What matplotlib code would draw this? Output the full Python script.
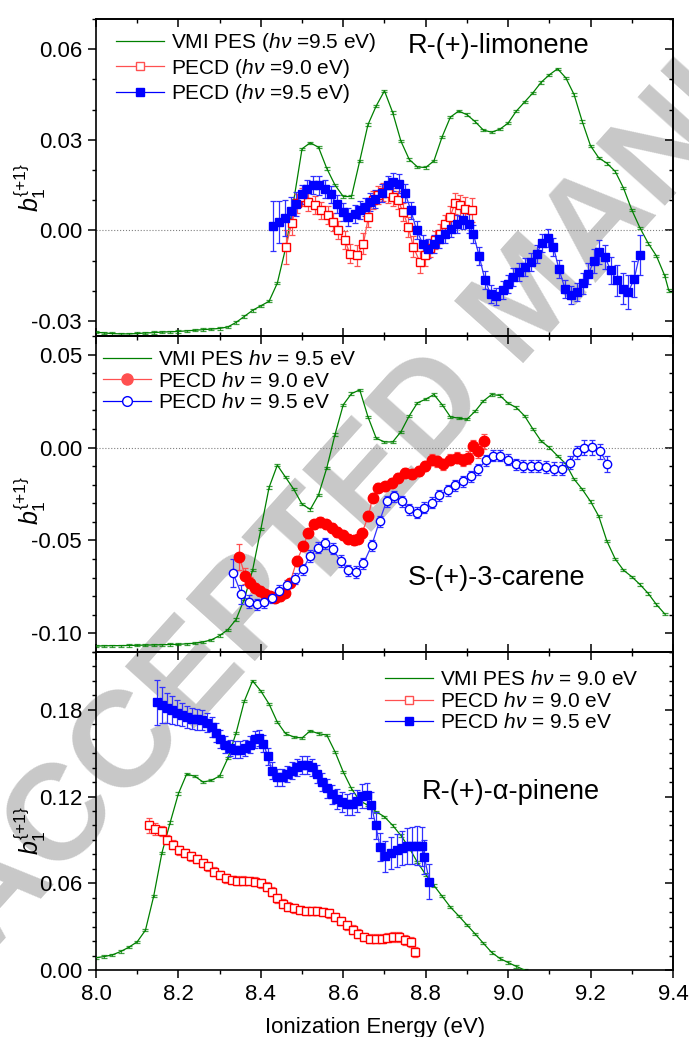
import matplotlib
matplotlib.use("Agg")
import matplotlib.pyplot as plt
from matplotlib.ticker import MultipleLocator, FixedLocator, FormatStrFormatter
from matplotlib.lines import Line2D

plt.rcParams["font.family"] = ["Liberation Sans", "DejaVu Sans"]
plt.rcParams["mathtext.fontset"] = "custom"
plt.rcParams["mathtext.rm"] = "Liberation Sans"
plt.rcParams["mathtext.it"] = "Liberation Sans:italic"
plt.rcParams["mathtext.bf"] = "Liberation Sans:bold"
plt.rcParams["axes.unicode_minus"] = False

# ---------------- data ----------------
# VMI PES curves (scaled onto each panel), 0.02 eV grid
pes_x_lim = [8.00, 8.02, 8.04, 8.06, 8.08, 8.10, 8.12, 8.14, 8.16, 8.18,
             8.20, 8.22, 8.24, 8.26, 8.28, 8.30, 8.32, 8.34, 8.36, 8.38,
             8.40, 8.42, 8.44, 8.46, 8.48, 8.50, 8.52, 8.54, 8.56, 8.58,
             8.60, 8.62, 8.64, 8.66, 8.68, 8.70, 8.72, 8.74, 8.76, 8.78,
             8.80, 8.82, 8.84, 8.86, 8.88, 8.90, 8.92, 8.94, 8.96, 8.98,
             9.00, 9.02, 9.04, 9.06, 9.08, 9.10, 9.12, 9.14, 9.16, 9.18,
             9.20, 9.22, 9.24, 9.26, 9.28, 9.30, 9.32, 9.34, 9.36, 9.38, 9.39]
pes_y_lim = [-0.0337, -0.0340, -0.0342, -0.0343, -0.0343, -0.0342, -0.0340, -0.0339, -0.0337, -0.0336,
             -0.0335, -0.0333, -0.0331, -0.0329, -0.0327, -0.0325, -0.0320, -0.0305, -0.0285, -0.0265,
             -0.0250, -0.0235, -0.0175, -0.0060, 0.0100, 0.0270, 0.0290, 0.0275, 0.0205, 0.0150,
             0.0112, 0.0112, 0.0230, 0.0350, 0.0412, 0.0462, 0.0390, 0.0295, 0.0235, 0.0210,
             0.0208, 0.0230, 0.0310, 0.0375, 0.0395, 0.0383, 0.0360, 0.0332, 0.0325, 0.0335,
             0.0355, 0.0395, 0.0425, 0.0455, 0.0490, 0.0515, 0.0535, 0.0505, 0.0450, 0.0360,
             0.0280, 0.0240, 0.0222, 0.0195, 0.0140, 0.0068, 0.0008, -0.0043, -0.0085, -0.0150, -0.0200]
pes_err_lim = 0.0004

pes_x_car = [8.00, 8.02, 8.04, 8.06, 8.08, 8.10, 8.12, 8.14, 8.16, 8.18,
             8.20, 8.22, 8.24, 8.26, 8.28, 8.30, 8.32, 8.34, 8.36, 8.38,
             8.40, 8.42, 8.44, 8.46, 8.48, 8.50, 8.52, 8.54, 8.56, 8.58,
             8.60, 8.62, 8.64, 8.66, 8.68, 8.70, 8.72, 8.74, 8.76, 8.78,
             8.80, 8.82, 8.84, 8.86, 8.88, 8.90, 8.92, 8.94, 8.96, 8.98,
             9.00, 9.02, 9.04, 9.06, 9.08, 9.10, 9.12, 9.14, 9.16, 9.18,
             9.20, 9.22, 9.24, 9.26, 9.28, 9.30, 9.32, 9.34, 9.36, 9.38]
pes_y_car = [-0.1068, -0.1067, -0.1066, -0.1066, -0.1065, -0.1064, -0.1063, -0.1062, -0.1061, -0.1060,
             -0.1059, -0.1056, -0.1053, -0.1046, -0.1035, -0.1012, -0.0980, -0.0925, -0.0815, -0.0660,
             -0.0440, -0.0215, -0.0095, -0.0160, -0.0225, -0.0305, -0.0333, -0.0255, -0.0110, 0.0070,
             0.0230, 0.0290, 0.0310, 0.0165, 0.0050, 0.0030, 0.0030, 0.0085, 0.0170, 0.0240,
             0.0260, 0.0285, 0.0230, 0.0165, 0.0158, 0.0152, 0.0195, 0.0250, 0.0285, 0.0280,
             0.0238, 0.0215, 0.0170, 0.0100, 0.0035, 0.0000, -0.0045, -0.0088, -0.0170, -0.0225,
             -0.0290, -0.0370, -0.0505, -0.0600, -0.0660, -0.0695, -0.0737, -0.0785, -0.0845, -0.0895]
pes_err_car = 0.0006

pes_x_pin = [8.00, 8.02, 8.04, 8.06, 8.08, 8.10, 8.12, 8.14, 8.16, 8.18,
             8.20, 8.22, 8.24, 8.26, 8.28, 8.30, 8.32, 8.34, 8.36, 8.38,
             8.40, 8.42, 8.44, 8.46, 8.48, 8.50, 8.52, 8.54, 8.56, 8.58,
             8.60, 8.62, 8.64, 8.66, 8.68, 8.70, 8.72, 8.74, 8.76, 8.78,
             8.80, 8.82, 8.84, 8.86, 8.88, 8.90, 8.92, 8.94, 8.96, 8.98,
             9.00, 9.02, 9.04]
pes_y_pin = [0.0085, 0.0093, 0.0105, 0.0128, 0.0158, 0.0195, 0.0275, 0.0510, 0.0810, 0.1020,
             0.1220, 0.1355, 0.1340, 0.1300, 0.1312, 0.1342, 0.1465, 0.1640, 0.1860, 0.2000,
             0.1930, 0.1840, 0.1715, 0.1635, 0.1612, 0.1605, 0.1655, 0.1635, 0.1625, 0.1510,
             0.1370, 0.1255, 0.1170, 0.1140, 0.1095, 0.1060, 0.1000, 0.0930, 0.0845, 0.0745,
             0.0660, 0.0585, 0.0510, 0.0435, 0.0375, 0.0312, 0.0250, 0.0185, 0.0122, 0.0080,
             0.0052, 0.0025, 0.0000]
pes_err_pin = 0.0008

# R-(+)-limonene PECD
lim90_x = [8.461, 8.475, 8.487, 8.499, 8.515, 8.531, 8.547, 8.563, 8.576, 8.588,
           8.604, 8.616, 8.633, 8.649, 8.661, 8.673, 8.685, 8.697, 8.709, 8.721,
           8.733, 8.745, 8.758, 8.770, 8.786, 8.798, 8.810, 8.823, 8.835, 8.847,
           8.859, 8.871, 8.883, 8.895, 8.912]
lim90_y = [-0.0055, 0.0023, 0.0089, 0.0109, 0.0094, 0.0083, 0.0066, 0.0050, 0.0028, 0.0000,
           -0.0033, -0.0077, -0.0083, -0.0044, 0.0044, 0.0099, 0.0116, 0.0127, 0.0122, 0.0110,
           0.0099, 0.0061, 0.0011, -0.0055, -0.0105, -0.0083, -0.0060, -0.0033, -0.0011, 0.0022,
           0.0044, 0.0089, 0.0083, 0.0072, 0.0066]
lim90_e = [0.0055, 0.0040, 0.0032, 0.0030, 0.0030, 0.0030, 0.0029, 0.0030, 0.0031, 0.0030,
           0.0030, 0.0031, 0.0035, 0.0035, 0.0034, 0.0030, 0.0030, 0.0029, 0.0030, 0.0030,
           0.0030, 0.0031, 0.0032, 0.0035, 0.0036, 0.0035, 0.0030, 0.0030, 0.0031, 0.0030,
           0.0035, 0.0036, 0.0035, 0.0040, 0.0040]

lim95_x = [8.430, 8.445, 8.459, 8.473, 8.486, 8.499, 8.513, 8.527, 8.542, 8.556,
           8.570, 8.584, 8.599, 8.612, 8.629, 8.641, 8.653, 8.665, 8.677, 8.693,
           8.709, 8.721, 8.736, 8.750, 8.764, 8.778, 8.793, 8.806, 8.820, 8.833,
           8.847, 8.861, 8.875, 8.890, 8.904, 8.916, 8.930, 8.944, 8.958, 8.971,
           8.987, 8.999, 9.013, 9.027, 9.041, 9.055, 9.069, 9.083, 9.098, 9.110,
           9.123, 9.138, 9.152, 9.166, 9.181, 9.195, 9.208, 9.221, 9.235, 9.249,
           9.264, 9.278, 9.292, 9.306, 9.319]
lim95_y = [0.0013, 0.0028, 0.0042, 0.0064, 0.0088, 0.0119, 0.0138, 0.0149, 0.0149, 0.0138,
           0.0119, 0.0086, 0.0061, 0.0044, 0.0055, 0.0066, 0.0077, 0.0094, 0.0105, 0.0124,
           0.0149, 0.0160, 0.0155, 0.0124, 0.0066, 0.0000, -0.0044, -0.0061, -0.0044, -0.0028,
           -0.0011, 0.0006, 0.0020, 0.0033, 0.0022, -0.0013, -0.0086, -0.0166, -0.0212, -0.0219,
           -0.0199, -0.0177, -0.0155, -0.0138, -0.0122, -0.0105, -0.0077, -0.0042, -0.0024, -0.0055,
           -0.0127, -0.0193, -0.0215, -0.0204, -0.0175, -0.0144, -0.0102, -0.0072, -0.0088, -0.0133,
           -0.0166, -0.0193, -0.0204, -0.0160, -0.0083]
lim95_e = [0.0083, 0.0070, 0.0060, 0.0045, 0.0040, 0.0032, 0.0030, 0.0030, 0.0031, 0.0030,
           0.0029, 0.0030, 0.0030, 0.0031, 0.0030, 0.0030, 0.0029, 0.0030, 0.0030, 0.0030,
           0.0031, 0.0030, 0.0030, 0.0030, 0.0029, 0.0030, 0.0030, 0.0031, 0.0030, 0.0030,
           0.0030, 0.0029, 0.0030, 0.0030, 0.0031, 0.0030, 0.0030, 0.0030, 0.0030, 0.0029,
           0.0030, 0.0030, 0.0030, 0.0031, 0.0030, 0.0030, 0.0030, 0.0030, 0.0030, 0.0030,
           0.0030, 0.0030, 0.0030, 0.0030, 0.0035, 0.0035, 0.0040, 0.0040, 0.0040, 0.0045,
           0.0050, 0.0050, 0.0055, 0.0060, 0.0066]

# S-(+)-3-carene PECD
car90_x = [8.348, 8.362, 8.374, 8.386, 8.398, 8.410, 8.422, 8.434, 8.446, 8.459,
           8.471, 8.487, 8.503, 8.515, 8.529, 8.544, 8.558, 8.572, 8.584, 8.599,
           8.612, 8.626, 8.637, 8.645, 8.661, 8.671, 8.685, 8.701, 8.718, 8.734,
           8.750, 8.767, 8.783, 8.798, 8.815, 8.827, 8.843, 8.859, 8.875, 8.891,
           8.903, 8.914, 8.928, 8.942]
car90_y = [-0.0588, -0.0692, -0.0727, -0.0754, -0.0772, -0.0790, -0.0800, -0.0808, -0.0800, -0.0781,
           -0.0727, -0.0611, -0.0531, -0.0462, -0.0414, -0.0401, -0.0414, -0.0432, -0.0455, -0.0473,
           -0.0491, -0.0500, -0.0491, -0.0462, -0.0369, -0.0270, -0.0217, -0.0208, -0.0190, -0.0163,
           -0.0136, -0.0145, -0.0127, -0.0100, -0.0065, -0.0073, -0.0091, -0.0065, -0.0056, -0.0065,
           -0.0056, 0.0007, -0.0020, 0.0034]
car90_e = [0.0070, 0.0045, 0.0030, 0.0025, 0.0025, 0.0024, 0.0025, 0.0025, 0.0025, 0.0025,
           0.0025, 0.0025, 0.0025, 0.0025, 0.0024, 0.0025, 0.0025, 0.0025, 0.0025, 0.0025,
           0.0025, 0.0025, 0.0025, 0.0025, 0.0025, 0.0025, 0.0025, 0.0025, 0.0025, 0.0025,
           0.0025, 0.0025, 0.0028, 0.0028, 0.0030, 0.0030, 0.0030, 0.0030, 0.0030, 0.0032,
           0.0035, 0.0035, 0.0038, 0.0040]

car95_x = [8.333, 8.353, 8.372, 8.390, 8.408, 8.426, 8.445, 8.464, 8.483, 8.502,
           8.519, 8.538, 8.556, 8.574, 8.594, 8.612, 8.631, 8.649, 8.669, 8.688,
           8.705, 8.723, 8.742, 8.760, 8.778, 8.797, 8.815, 8.833, 8.853, 8.871,
           8.890, 8.909, 8.928, 8.946, 8.963, 8.980, 8.999, 9.018, 9.037, 9.056,
           9.073, 9.092, 9.112, 9.130, 9.149, 9.166, 9.185, 9.203, 9.223, 9.241]
car95_y = [-0.0677, -0.0790, -0.0831, -0.0844, -0.0831, -0.0808, -0.0772, -0.0742, -0.0706, -0.0656,
           -0.0584, -0.0539, -0.0516, -0.0545, -0.0611, -0.0660, -0.0670, -0.0624, -0.0527, -0.0396,
           -0.0289, -0.0262, -0.0289, -0.0333, -0.0351, -0.0324, -0.0297, -0.0258, -0.0230, -0.0204,
           -0.0181, -0.0154, -0.0118, -0.0068, -0.0043, -0.0043, -0.0065, -0.0091, -0.0100, -0.0100,
           -0.0100, -0.0104, -0.0113, -0.0113, -0.0082, -0.0025, -0.0002, 0.0002, -0.0020, -0.0088]
car95_e = [0.0075, 0.0050, 0.0035, 0.0030, 0.0030, 0.0029, 0.0030, 0.0030, 0.0030, 0.0030,
           0.0030, 0.0030, 0.0029, 0.0030, 0.0030, 0.0030, 0.0030, 0.0030, 0.0030, 0.0030,
           0.0030, 0.0029, 0.0030, 0.0030, 0.0030, 0.0030, 0.0030, 0.0030, 0.0030, 0.0030,
           0.0030, 0.0030, 0.0030, 0.0030, 0.0030, 0.0030, 0.0030, 0.0030, 0.0032, 0.0032,
           0.0032, 0.0032, 0.0033, 0.0034, 0.0035, 0.0035, 0.0040, 0.0040, 0.0040, 0.0045]

# R-(+)-alpha-pinene PECD
pin90_x = [8.129, 8.143, 8.159, 8.173, 8.188, 8.202, 8.216, 8.230, 8.244, 8.259,
           8.273, 8.287, 8.301, 8.315, 8.329, 8.343, 8.357, 8.372, 8.386, 8.400,
           8.414, 8.426, 8.439, 8.453, 8.467, 8.481, 8.495, 8.510, 8.523, 8.537,
           8.552, 8.566, 8.580, 8.594, 8.608, 8.623, 8.636, 8.650, 8.665, 8.679,
           8.693, 8.707, 8.721, 8.736, 8.750, 8.764, 8.774]
pin90_y = [0.1000, 0.0977, 0.0960, 0.0902, 0.0867, 0.0828, 0.0809, 0.0786, 0.0767, 0.0740,
           0.0716, 0.0681, 0.0658, 0.0635, 0.0623, 0.0618, 0.0618, 0.0616, 0.0611, 0.0600,
           0.0576, 0.0541, 0.0495, 0.0460, 0.0437, 0.0426, 0.0414, 0.0409, 0.0409, 0.0409,
           0.0402, 0.0391, 0.0367, 0.0339, 0.0309, 0.0279, 0.0251, 0.0228, 0.0216, 0.0216,
           0.0216, 0.0223, 0.0228, 0.0228, 0.0209, 0.0193, 0.0123]
pin90_e = [0.0050, 0.0040, 0.0035, 0.0032, 0.0030, 0.0030, 0.0030, 0.0030, 0.0029, 0.0030,
           0.0030, 0.0030, 0.0030, 0.0030, 0.0030, 0.0029, 0.0030, 0.0030, 0.0030, 0.0030,
           0.0030, 0.0030, 0.0030, 0.0030, 0.0030, 0.0030, 0.0030, 0.0029, 0.0030, 0.0030,
           0.0030, 0.0030, 0.0030, 0.0030, 0.0030, 0.0030, 0.0030, 0.0030, 0.0030, 0.0030,
           0.0030, 0.0031, 0.0032, 0.0032, 0.0033, 0.0034, 0.0035]

pin95_x = [8.147, 8.159, 8.172, 8.184, 8.196, 8.208, 8.220, 8.232, 8.244, 8.257,
           8.269, 8.281, 8.291, 8.301, 8.313, 8.325, 8.337, 8.349, 8.362, 8.374,
           8.386, 8.396, 8.406, 8.417, 8.427, 8.439, 8.451, 8.463, 8.475, 8.487,
           8.499, 8.511, 8.523, 8.536, 8.548, 8.560, 8.572, 8.584, 8.597, 8.609,
           8.621, 8.633, 8.645, 8.657, 8.668, 8.679, 8.689, 8.701, 8.717, 8.730,
           8.742, 8.754, 8.767, 8.779, 8.791, 8.797, 8.809]
pin95_y = [0.1851, 0.1832, 0.1814, 0.1797, 0.1781, 0.1767, 0.1751, 0.1739, 0.1734, 0.1727,
           0.1711, 0.1681, 0.1642, 0.1600, 0.1558, 0.1535, 0.1525, 0.1525, 0.1535, 0.1558,
           0.1595, 0.1605, 0.1565, 0.1479, 0.1379, 0.1333, 0.1333, 0.1356, 0.1379, 0.1402,
           0.1418, 0.1418, 0.1402, 0.1356, 0.1302, 0.1256, 0.1216, 0.1181, 0.1162, 0.1146,
           0.1146, 0.1169, 0.1204, 0.1209, 0.1139, 0.1000, 0.0851, 0.0786, 0.0809, 0.0828,
           0.0844, 0.0855, 0.0860, 0.0860, 0.0855, 0.0781, 0.0611]
pin95_e = [0.0154, 0.0125, 0.0105, 0.0095, 0.0088, 0.0082, 0.0078, 0.0075, 0.0072, 0.0070,
           0.0068, 0.0066, 0.0064, 0.0062, 0.0060, 0.0058, 0.0058, 0.0058, 0.0058, 0.0058,
           0.0058, 0.0058, 0.0058, 0.0058, 0.0058, 0.0058, 0.0058, 0.0058, 0.0060, 0.0060,
           0.0060, 0.0060, 0.0060, 0.0060, 0.0062, 0.0064, 0.0066, 0.0068, 0.0070, 0.0072,
           0.0075, 0.0078, 0.0082, 0.0086, 0.0090, 0.0095, 0.0100, 0.0105, 0.0110, 0.0115,
           0.0120, 0.0125, 0.0130, 0.0135, 0.0135, 0.0120, 0.0120]

xticks = [8.0, 8.2, 8.4, 8.6, 8.8, 9.0, 9.2, 9.4]
yticks_lim = [-0.03, 0.00, 0.03, 0.06]
yticks_car = [-0.10, -0.05, 0.00, 0.05]
yticks_pin = [0.00, 0.06, 0.12, 0.18]

GREEN = "#008000"
RED = "#ff0000"
BLUE = "#0000ff"

fig = plt.figure(figsize=(6.89, 10.37), dpi=100)

# watermark behind the panels
fig.text(-0.012, 0.080, "ACCEPTED MANUSCRIPT", rotation=48, rotation_mode="anchor",
         ha="left", va="baseline", fontsize=98, fontweight="bold",
         color="#c8c8c8", zorder=-5)

L, W = 0.1393, 0.8374
ax1 = fig.add_axes([L, 0.6760, W, 0.3057])
ax2 = fig.add_axes([L, 0.3713, W, 0.3047])
ax3 = fig.add_axes([L, 0.0646, W, 0.3067])


def style(ax, ylim, yticks, bottom_out):
    ax.set_facecolor("none")
    ax.set_xlim(8.0, 9.4)
    ax.set_ylim(*ylim)
    ax.xaxis.set_major_locator(FixedLocator(xticks))
    ax.xaxis.set_minor_locator(MultipleLocator(0.1))
    ax.yaxis.set_major_locator(FixedLocator(yticks))
    ax.yaxis.set_minor_locator(MultipleLocator(0.01))
    ax.yaxis.set_major_formatter(FormatStrFormatter("%.2f"))
    ax.xaxis.set_major_formatter(FormatStrFormatter("%.1f"))
    for s in ax.spines.values():
        s.set_linewidth(1.2)
    ax.tick_params(axis="y", which="major", direction="out", length=6, width=1.1,
                   labelsize=16, pad=4)
    ax.tick_params(axis="y", which="minor", direction="out", length=3, width=1.0)
    ax.tick_params(axis="x", which="major", direction="out" if bottom_out else "in",
                   length=6, width=1.1, labelsize=16, pad=4,
                   labelbottom=bottom_out)
    ax.tick_params(axis="x", which="minor", direction="out" if bottom_out else "in",
                   length=3, width=1.0)
    top = ax.secondary_xaxis("top")
    top.xaxis.set_major_locator(FixedLocator(xticks))
    top.xaxis.set_minor_locator(MultipleLocator(0.1))
    top.tick_params(which="major", direction="in", length=6, width=1.1, labeltop=False)
    top.tick_params(which="minor", direction="in", length=3, width=1.0)
    top.spines["top"].set_linewidth(1.2)
    right = ax.secondary_yaxis("right")
    right.yaxis.set_major_locator(FixedLocator(yticks))
    right.yaxis.set_minor_locator(MultipleLocator(0.01))
    right.tick_params(which="major", direction="in", length=6, width=1.1, labelright=False)
    right.tick_params(which="minor", direction="in", length=3, width=1.0)
    right.spines["right"].set_linewidth(1.2)
    ax.set_ylabel(r"$b_1^{\{+1\}}$", fontsize=18)


def pes(ax, x, y, err):
    ax.errorbar(x, y, yerr=err, fmt="none", ecolor=GREEN, elinewidth=0.8,
                capsize=2.5, capthick=0.9, alpha=0.75, zorder=2)
    ax.plot(x, y, color=GREEN, lw=0.9, zorder=3)


def pecd(ax, x, y, err, color, ecolor, marker, filled, ms):
    ax.errorbar(x, y, yerr=err, fmt="none", ecolor=ecolor, elinewidth=0.9,
                capsize=2.5, capthick=0.9, zorder=4)
    ax.plot(x, y, color=ecolor, lw=0.9, marker=marker, ms=ms,
            mfc=color if filled else "white", mec=color, mew=1.0, zorder=5)


def handle(color, marker=None, filled=True, ms=6):
    if marker is None:
        return Line2D([], [], color=GREEN, lw=0.9)
    return Line2D([], [], color=color, lw=0.9, marker=marker, ms=ms,
                  mfc=color if filled else "white", mec=color, mew=1.0)


# ---- top: limonene ----
style(ax1, (-0.035, 0.07), yticks_lim, False)
ax1.axhline(0, color="gray", ls=":", lw=0.8, zorder=1)
pes(ax1, pes_x_lim, pes_y_lim, pes_err_lim)
pecd(ax1, lim90_x, lim90_y, lim90_e, RED, "#ff5050", "s", False, 5.5)
pecd(ax1, lim95_x, lim95_y, lim95_e, BLUE, "#3030ff", "s", True, 5.5)
ax1.legend([handle(GREEN), handle("#ff5050", "s", False), handle(BLUE, "s", True)],
           [r"VMI PES ($h\nu$ =9.5 eV)", r"PECD ($h\nu$ =9.0 eV)", r"PECD ($h\nu$ =9.5 eV)"],
           loc="upper left", bbox_to_anchor=(0.035, 0.962), borderaxespad=0, borderpad=0,
           frameon=False, fontsize=15, handlelength=2.3, handletextpad=0.35,
           labelspacing=0.12)
ax1.text(0.541, 0.915, "R-(+)-limonene", transform=ax1.transAxes, fontsize=19.5,
         ha="left", va="center")
ax1.yaxis.set_label_coords(-0.083, 0.47)

# ---- middle: 3-carene ----
style(ax2, (-0.11, 0.06), yticks_car, False)
ax2.axhline(0, color="gray", ls=":", lw=0.8, zorder=1)
pes(ax2, pes_x_car, pes_y_car, pes_err_car)
pecd(ax2, car90_x, car90_y, car90_e, RED, "#ff5050", "o", True, 7.5)
pecd(ax2, car95_x, car95_y, car95_e, BLUE, "#3030ff", "o", False, 6)
ax2.legend([handle(GREEN), handle("#ff5050", "o", True, 8), handle(BLUE, "o", False, 7)],
           [r"VMI PES $h\nu$ = 9.5 eV", r"PECD $h\nu$ = 9.0 eV", r"PECD $h\nu$ = 9.5 eV"],
           loc="upper left", bbox_to_anchor=(0.012, 0.955), borderaxespad=0, borderpad=0,
           frameon=False, fontsize=15, handlelength=2.3, handletextpad=0.35,
           labelspacing=0.12)
ax2.text(0.541, 0.234, "S-(+)-3-carene", transform=ax2.transAxes, fontsize=19.5,
         ha="left", va="center")
ax2.yaxis.set_label_coords(-0.083, 0.48)

# ---- bottom: alpha-pinene ----
style(ax3, (0.0, 0.22), yticks_pin, True)
pes(ax3, pes_x_pin, pes_y_pin, pes_err_pin)
pecd(ax3, pin90_x, pin90_y, pin90_e, RED, "#ff5050", "s", False, 6)
pecd(ax3, pin95_x, pin95_y, pin95_e, BLUE, "#3030ff", "s", True, 5.5)
ax3.legend([handle(GREEN), handle("#ff5050", "s", False), handle(BLUE, "s", True)],
           [r"VMI PES $h\nu$ = 9.0 eV", r"PECD $h\nu$ = 9.0 eV", r"PECD $h\nu$ = 9.5 eV"],
           loc="upper left", bbox_to_anchor=(0.501, 0.942), borderaxespad=0, borderpad=0,
           frameon=False, fontsize=15, handlelength=2.3, handletextpad=0.35,
           labelspacing=0.12)
ax3.text(0.565, 0.560, "R-(+)-α-pinene", transform=ax3.transAxes, fontsize=19.5,
         ha="left", va="center")
ax3.yaxis.set_label_coords(-0.083, 0.44)

fig.text(0.3846, 0.004, "Ionization Energy (eV)", fontsize=16, ha="left", va="baseline")

fig.savefig("out.png", dpi=100)
